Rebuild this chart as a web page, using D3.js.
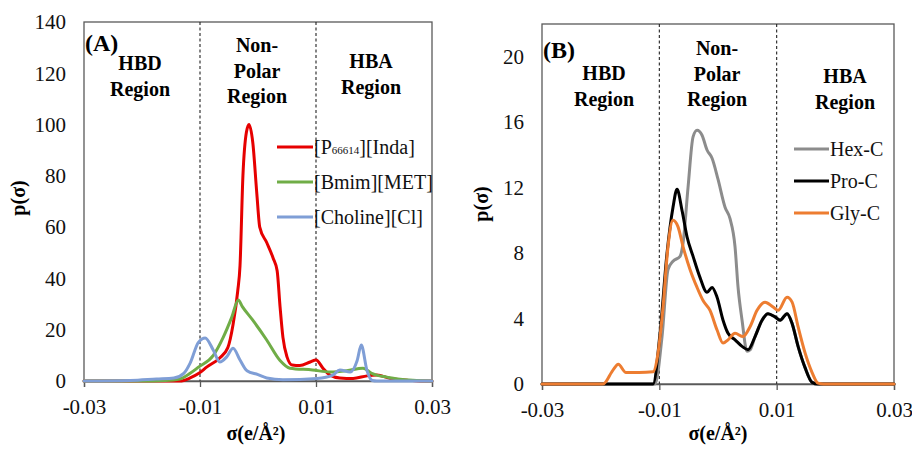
<!DOCTYPE html>
<html>
<head>
<meta charset="utf-8">
<script src="https://cdn.jsdelivr.net/npm/d3@7/dist/d3.min.js"></script>
<style>
  html, body { margin: 0; padding: 0; background: #fff; }
  svg, svg text { font-family: "Liberation Serif", "Times New Roman", serif; }
  svg { display: block; }
</style>
</head>
<body>
<svg id="chart" width="912" height="452"></svg>
<script>
// ---------- Data ----------
const xTicks = [-0.03, -0.01, 0.01, 0.03];
const xTickLabels = ["-0.03", "-0.01", "0.01", "0.03"];
const regionBounds = [-0.01, 0.01];

// Panel A
const yTicksA = [0, 20, 40, 60, 80, 100, 120, 140];
const indaSigma = [-0.03, -0.0135, -0.0117, -0.0102, -0.0088, -0.0066, -0.0052, -0.0043, -0.0035, -0.0031, -0.0026, -0.0020, -0.00155, -0.0009, -0.0002, 0.0003, 0.0015, 0.0026, 0.0033, 0.0038, 0.0043, 0.0050, 0.0059, 0.0072, 0.0090, 0.0100, 0.0112, 0.0124, 0.0141, 0.0164, 0.0188, 0.0205, 0.0228, 0.0257, 0.028, 0.03];
const indaP     = [0, 0, 1.2, 3, 5.5, 9, 13, 22, 35, 45, 80, 97, 100, 93, 73, 60, 54, 48, 43, 29, 17, 9.4, 6.2, 6, 7.4, 8.2, 5, 2.3, 1.2, 1, 2, 2.3, 1, 0.3, 0, 0];
const bmimSigma = [-0.03, -0.02, -0.016, -0.0135, -0.0117, -0.0102, -0.0077, -0.006, -0.0045, -0.0034, -0.0027, -0.001, 0.0015, 0.0038, 0.0055, 0.0094, 0.0124, 0.0153, 0.0181, 0.0196, 0.0222, 0.0267, 0.03];
const bmimP     = [0, 0, 0.2, 0.8, 3, 5.5, 10, 17, 25, 31.6, 29, 24, 16, 8, 5, 4.3, 3.5, 4, 5, 3, 1.5, 0.3, 0];
const cholSigma = [-0.03, -0.022, -0.0175, -0.0145, -0.0128, -0.0117, -0.0103, -0.0091, -0.0077, -0.0066, -0.0054, -0.0043, -0.0031, -0.0019, 0.0, 0.0015, 0.0043, 0.0102, 0.0129, 0.0141, 0.0159, 0.0171, 0.0178, 0.0188, 0.0197, 0.0205, 0.03];
const cholP     = [0, 0.2, 0.8, 1.2, 3, 7, 15, 16.8, 12, 7.4, 9.4, 12.8, 8.2, 4, 2.5, 1.2, 0.5, 1, 2.3, 4.3, 3.5, 8, 14, 4, 0.2, 0, 0];

// Panel B
const yTicksB = [0, 4, 8, 12, 16, 20];
const hexSigma = [-0.03, -0.012, -0.01073, -0.00954, -0.00852, -0.00767, -0.00647, -0.00596, -0.00511, -0.00425, -0.00357, -0.00272, -0.00187, -0.00101, 0.00001, 0.0012, 0.00205, 0.0029, 0.00342, 0.0041, 0.00495, 0.0055, 0.00632, 0.00751, 0.00853, 0.00973, 0.01058, 0.01177, 0.01263, 0.01365, 0.01484, 0.01604, 0.017, 0.03];
const hexP     = [0, 0, 0, 2.9, 7, 7.5, 7.8, 8.6, 12, 15.1, 15.5, 15.2, 14.3, 13.8, 12.5, 10.8, 10.1, 8.4, 5.9, 3.9, 2.0, 2.1, 2.9, 3.9, 4.3, 4.1, 3.9, 4.3, 3.7, 2.3, 1.0, 0.1, 0, 0];
const proSigma = [-0.03, -0.012, -0.01107, -0.00988, -0.00869, -0.00767, -0.00698, -0.00613, -0.00528, -0.00425, -0.00306, -0.00187, -0.00101, -0.00016, 0.00086, 0.00171, 0.00291, 0.0041, 0.00512, 0.00632, 0.00751, 0.00853, 0.00973, 0.01058, 0.01177, 0.01263, 0.01365, 0.01484, 0.01604, 0.017, 0.03];
const proP     = [0, 0, 0, 3.1, 8, 10.8, 11.9, 10.6, 9, 7.8, 6.5, 5.6, 5.9, 5.3, 3.9, 3.1, 2.7, 2.3, 2.1, 2.9, 3.9, 4.3, 4.1, 3.9, 4.3, 3.7, 2.3, 1.0, 0.1, 0, 0];
const glySigma = [-0.03, -0.0196, -0.0179, -0.017, -0.01568, -0.01346, -0.01107, -0.01022, -0.00937, -0.00852, -0.00767, -0.00681, -0.00596, -0.00477, -0.00357, -0.00255, -0.00136, -0.00016, 0.00086, 0.00171, 0.0029, 0.00427, 0.00546, 0.00666, 0.00802, 0.00939, 0.01024, 0.01177, 0.01263, 0.01365, 0.01484, 0.01604, 0.01706, 0.018, 0.03];
const glyP     = [0, 0, 0.85, 1.2, 0.7, 0.7, 0.75, 1.9, 4.7, 8.4, 10, 9.6, 8.4, 7, 5.9, 5.1, 4.5, 3.3, 2.5, 2.7, 3.1, 2.9, 3.5, 4.5, 5.0, 4.7, 4.5, 5.3, 5.0, 3.5, 1.9, 0.7, 0.05, 0, 0];

const panelA = {
  label: "(A)",
  yMax: 140, yTicks: yTicksA,
  series: [
    { name: "[P66614][Inda]", sub: ["[P", "66614", "][Inda]"], color: "#e60000", x: indaSigma, y: indaP },
    { name: "[Bmim][MET]", color: "#70ad47", x: bmimSigma, y: bmimP },
    { name: "[Choline][Cl]", color: "#7f9ed6", x: cholSigma, y: cholP }
  ]
};
const panelB = {
  label: "(B)",
  yMax: 22, yTicks: yTicksB,
  series: [
    { name: "Hex-C", color: "#8c8c8c", x: hexSigma, y: hexP },
    { name: "Pro-C", color: "#000000", x: proSigma, y: proP },
    { name: "Gly-C", color: "#ed7d31", x: glySigma, y: glyP }
  ]
};

// ---------- Layout ----------
const layoutA = {
  left: 84, right: 432, top: 22, bottom: 381,
  labelPos: [85, 51],
  regions: [
    { cx: 140, lines: ["HBD", "Region"], y0: 70 },
    { cx: 257, lines: ["Non-", "Polar", "Region"], y0: 52 },
    { cx: 371, lines: ["HBA", "Region"], y0: 68 }
  ],
  legend: { x1: 277, x2: 313, y0: 147, dy: 35 },
  ylab: [25, 198], xlabX: 256
};
const layoutB = {
  left: 542, right: 894, top: 24, bottom: 384,
  labelPos: [543, 58],
  regions: [
    { cx: 604, lines: ["HBD", "Region"], y0: 80 },
    { cx: 717, lines: ["Non-", "Polar", "Region"], y0: 55 },
    { cx: 845, lines: ["HBA", "Region"], y0: 83 }
  ],
  legend: { x1: 794, x2: 829, y0: 149, dy: 32 },
  ylab: [488, 204], xlabX: 718
};

const svg = d3.select("#chart");

function drawPanel(panel, L) {
  const g = svg.append("g");
  const x = d3.scaleLinear().domain([-0.03, 0.03]).range([L.left, L.right]);
  const y = d3.scaleLinear().domain([0, panel.yMax]).range([L.bottom, L.top]);

  // frame
  g.append("rect")
    .attr("x", L.left).attr("y", L.top)
    .attr("width", L.right - L.left).attr("height", L.bottom - L.top)
    .attr("fill", "none").attr("stroke", "#595959").attr("stroke-width", 1.3);

  // region dividers
  g.selectAll(".div").data(regionBounds).join("line")
    .attr("x1", d => x(d)).attr("x2", d => x(d))
    .attr("y1", L.top).attr("y2", L.bottom)
    .attr("stroke", "#222").attr("stroke-width", 1.1).attr("stroke-dasharray", "3,2.5");

  // x axis
  const xAxis = d3.axisBottom(x).tickValues(xTicks)
    .tickFormat((d, i) => xTickLabels[i]).tickSize(6).tickPadding(12);
  const xa = g.append("g").attr("transform", `translate(0,${L.bottom})`).call(xAxis)
    .attr("font-family", null).attr("font-size", null);
  xa.select(".domain").attr("stroke", "#595959").attr("stroke-width", 1.3);
  xa.selectAll(".tick line").attr("stroke", "#595959").attr("stroke-width", 1.3);
  xa.selectAll("text").attr("font-size", 21).attr("fill", "#111");

  // y axis (labels only)
  const yAxis = d3.axisLeft(y).tickValues(panel.yTicks).tickSize(0).tickPadding(18);
  const ya = g.append("g").attr("transform", `translate(${L.left},0)`).call(yAxis)
    .attr("font-family", null).attr("font-size", null);
  ya.select(".domain").remove();
  ya.selectAll("text").attr("font-size", 21).attr("fill", "#111");

  // series
  const line = d3.line().curve(d3.curveMonotoneX)
    .x(d => x(d[0])).y(d => y(d[1]));
  panel.series.forEach(s => {
    const pts = s.x.map((v, i) => [v, s.y[i]]);
    g.append("path").datum(pts)
      .attr("d", line).attr("fill", "none")
      .attr("stroke", s.color).attr("stroke-width", 3)
      .attr("stroke-linejoin", "round").attr("stroke-linecap", "round");
  });

  // panel label
  g.append("text").attr("x", L.labelPos[0]).attr("y", L.labelPos[1])
    .attr("font-size", 24).attr("font-weight", "bold").text(panel.label);

  // region labels
  L.regions.forEach(r => {
    const t = g.append("text").attr("text-anchor", "middle")
      .attr("font-size", 20).attr("font-weight", "bold");
    r.lines.forEach((ln, i) => {
      t.append("tspan").attr("x", r.cx).attr("y", r.y0 + i * 25.5).text(ln);
    });
  });

  // legend
  panel.series.forEach((s, i) => {
    const ly = L.legend.y0 + i * L.legend.dy;
    g.append("line").attr("x1", L.legend.x1).attr("x2", L.legend.x2)
      .attr("y1", ly).attr("y2", ly)
      .attr("stroke", s.color).attr("stroke-width", 3);
    const t = g.append("text").attr("x", L.legend.x2 + 1).attr("y", ly + 7)
      .attr("font-size", 20).attr("fill", "#111");
    if (s.sub) {
      t.append("tspan").text(s.sub[0]);
      t.append("tspan").attr("font-size", 11).text(s.sub[1]);
      t.append("tspan").text(s.sub[2]);
    } else {
      t.text(s.name);
    }
  });

  // axis titles
  g.append("text").attr("x", L.xlabX).attr("y", 440)
    .attr("text-anchor", "middle").attr("font-size", 20).attr("font-weight", "bold")
    .text("σ(e/Å²)");
  g.append("text")
    .attr("transform", `translate(${L.ylab[0]},${L.ylab[1]}) rotate(-90)`)
    .attr("text-anchor", "middle").attr("font-size", 20).attr("font-weight", "bold")
    .text("p(σ)");
}

drawPanel(panelA, layoutA);
drawPanel(panelB, layoutB);
</script>
</body>
</html>
